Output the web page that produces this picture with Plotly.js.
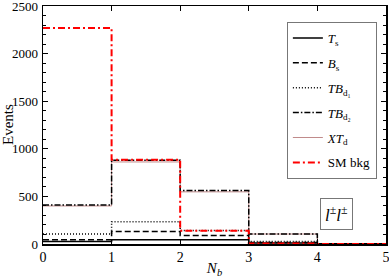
<!DOCTYPE html>
<html>
<head>
<meta charset="utf-8">
<script src="https://cdn.plot.ly/plotly-3.0.1.min.js"></script>
<style>html,body{margin:0;padding:0;background:#fff;}#chart{width:389px;height:278px;}</style>
</head>
<body>
<div id="chart"></div>
<script>
// Bin edges for N_b
const binEdges = [0, 1, 2, 3, 4, 5];
// Events per bin (N_b = 0,1,2,3,4)
const Ts    = [27, 45, 45, 10, 2];
const Bs    = [45, 132, 90, 15, 2];
const TBd1  = [104, 235, 143, 27, 2];
const TBd2  = [410, 880, 562, 105, 3];
const XTd   = [400, 862, 548, 105, 3];
const SMbkg = [2270, 884, 140, 5, 1];

const names = ['<i>T</i><sub>s</sub>', '<i>B</i><sub>s</sub>', '<i>TB</i><sub>d₁</sub>',
               '<i>TB</i><sub>d₂</sub>', '<i>XT</i><sub>d</sub>', 'SM bkg'];

function stepY(v){ return v.concat([v[v.length-1]]); }

const styles = [
  {color:'#000', dash:'solid', width:1.5},
  {color:'#000', dash:'6px,3px', width:1.5},
  {color:'#000', dash:'1px,2px', width:1.5},
  {color:'#000', dash:'6px,2px,1.5px,2px', width:1.5},
  {color:'#c08a8a', dash:'solid', width:1},
  {color:'#ff0000', dash:'7px,3px,2px,3px', width:2}
];
const series = [Ts, Bs, TBd1, TBd2, XTd, SMbkg];
const order = [4, 0, 1, 2, 3, 5];
const traces = order.map(i => ({
  x: binEdges, y: stepY(series[i]), type:'scatter', mode:'lines',
  line:{shape:'hv', color:styles[i].color, dash:styles[i].dash, width:styles[i].width},
  name: names[i], legendrank: i+1, legendgroup: 'g'+i
}));

const FAM = 'Liberation Serif, Times New Roman, serif';
const font = {family:FAM, size:13, color:'#000'};
const layout = {
  width:389, height:278,
  margin:{l:43, r:3, t:6, b:34},
  paper_bgcolor:'#fff', plot_bgcolor:'#fff',
  font: font,
  showlegend:true,
  legend:{x:0.711, y:0.933, xanchor:'left', yanchor:'top', bgcolor:'#fff',
          bordercolor:'#777', borderwidth:1, itemwidth:30,
          font:{family:FAM, size:13, color:'#000'}, tracegroupgap:5},
  xaxis:{range:[0,5.001], dtick:1, tick0:0, showline:true, mirror:'ticks', linecolor:'#000', linewidth:1.5,
         ticks:'inside', ticklen:5, tickcolor:'#000', showgrid:false, zeroline:false,
         tickfont:{family:FAM, size:14, color:'#000'}, ticklabeloverflow:'allow',
         title:{text:'<i>N</i><sub><i>b</i></sub>', font:{family:FAM, size:15}, standoff:6}},
  yaxis:{range:[0,2500.5], dtick:500, tick0:0, showline:true, mirror:'ticks', linecolor:'#000', linewidth:1.5,
         ticks:'inside', ticklen:5, tickcolor:'#000', showgrid:false, zeroline:false,
         tickfont:font, ticklabeloverflow:'allow', ticklabelstandoff:1,
         minor:{dtick:100, ticks:'inside', ticklen:3, tickcolor:'#000', showgrid:false}},
  annotations:[
    {xref:'paper', yref:'paper', x:-0.102, y:0.5, xanchor:'center', yanchor:'middle',
     text:'Events', textangle:-90, showarrow:false, font:{family:FAM, size:15, color:'#000'}},
    {xref:'paper', yref:'paper', x:0.856, y:0.128, xanchor:'center', yanchor:'middle',
     text:'<i>l</i><sup>±</sup><i>l</i><sup>±</sup>', showarrow:false,
     bordercolor:'#777', borderwidth:1, borderpad:4, bgcolor:'#fff',
     font:{family:FAM, size:17, color:'#000'}}]
};
Plotly.newPlot('chart', traces, layout, {displayModeBar:false, staticPlot:true});
</script>
</body>
</html>
